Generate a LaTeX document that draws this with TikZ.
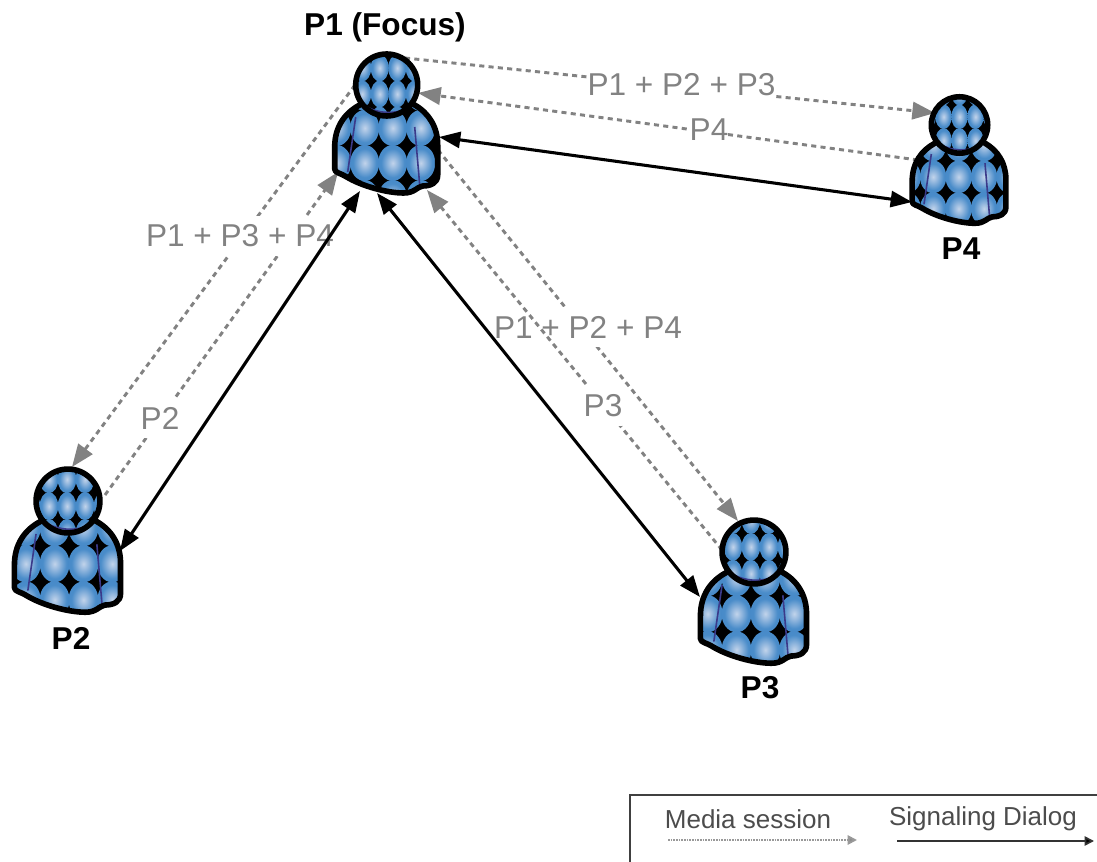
\documentclass[tikz,border=0pt]{standalone}
\usepackage{fontspec}
\setmainfont{Liberation Sans}
\usetikzlibrary{arrows.meta}
\definecolor{mediagray}{HTML}{828282}
\definecolor{seamcolor}{HTML}{3B3A8A}
\pgfdeclareradialshading{bubble}{\pgfpoint{0bp}{0bp}}{rgb(0bp)=(.76,.83,.92);rgb(8bp)=(.58,.72,.87);rgb(20bp)=(.29,.55,.79);rgb(50bp)=(.24,.51,.77)}
\def\bodypath{(-27,20) .. controls (-42,28) and (-52,42) .. (-52,62) -- (-52,84) .. controls (-52,88) and (-46,88) .. (-40,92) .. controls (-25,101) and (0,108) .. (17,108) .. controls (28,108) and (30,102) .. (36,101) .. controls (44,101) and (51,98) .. (51,90) -- (51,60) .. controls (51,42) and (42,28) .. (28,20) .. controls (10,10) and (-10,10) .. (-27,20) -- cycle}
\tikzset{
	x=.75pt,y=-.75pt,
	bubbleshade/.style={shading=bubble},
	seam/.style={draw=seamcolor,line width=1.2pt},
	outline/.style={draw=black,line width=4.2pt,line join=round},
	media/.style={draw=mediagray,line width=2.2pt,dash pattern=on 3.8pt off 3.2pt,-{Triangle[length=17pt,width=13pt,fill=mediagray]}},
	signaling/.style={draw=black,line width=2.3pt,{Triangle[length=16pt,width=12pt]}-{Triangle[length=16pt,width=12pt]}},
	streamlabel/.style={fill=white,text=mediagray,inner sep=0pt,minimum height=30pt,font=\fontsize{23.7}{28}\selectfont},
	peerlabel/.style={font=\fontsize{23.7}{28}\selectfont\bfseries},
	legendlabel/.style={text=black!70,inner sep=0pt,font=\fontsize{19.5}{24}\selectfont},
	pics/person/.style n args={4}{code={
		\begin{scope}
			\clip \bodypath;
			\fill[black] (-60,10) rectangle (60,115);
			\foreach \i in {-3,...,3}
			{
				\foreach \j in {-2,...,2}
				{
					\shade[bubbleshade] ({#1+\i*28},{#2+\j*35}) ellipse [x radius=14.5,y radius=18];
				}
			}
			\draw[seam] (-31,32) -- (-39,87);
			\draw[seam] (28,42) -- (33,100);
		\end{scope}
		\draw[outline] \bodypath;
		\begin{scope}
			\clip (0,0) circle (31);
			\fill[black] (-31,-31) rectangle (31,31);
			\foreach \i in {-3,...,3}
			{
				\foreach \j in {-2,...,2}
				{
					\shade[bubbleshade] ({#3+\i*17.5},{#4+\j*26}) ellipse [x radius=9,y radius=13.5];
				}
			}
			\draw[seam] (-23,20) .. controls (-10,29) and (10,30) .. (22,22);
		\end{scope}
		\draw[outline] (0,0) circle (31);
	}},
}
\begin{document}
\begin{tikzpicture}
	\useasboundingbox (0,0) rectangle (1097,862);
	% end points of the connectors
	\coordinate (p1-east) at (405,58);
	\coordinate (p4-west) at (935,113);
	\coordinate (p4-side) at (918,160);
	\coordinate (p1-neck) at (418,93);
	\coordinate (p1-west) at (355,85);
	\coordinate (p2-head) at (72,467);
	\coordinate (p2-neck) at (105,495);
	\coordinate (p1-hip) at (338,172);
	\coordinate (p1-foot) at (360,191);
	\coordinate (p2-arm) at (120,551);
	\coordinate (p1-low) at (377,193);
	\coordinate (p3-arm) at (700,597);
	\coordinate (p1-arm) at (439,137);
	\coordinate (p4-arm) at (912,202);
	\coordinate (p1-side) at (438,150);
	\coordinate (p3-head) at (738,521);
	\coordinate (p3-neck) at (722,550);
	\coordinate (p1-base) at (427,190);
	
	% media sessions with their labels
	\draw[media] (p1-east) -- (p4-west);
	\node[streamlabel] (l-p123) at (681.5,85) {P1 + P2 + P3};
	\draw[media] (p4-side) -- (p1-neck);
	\node[streamlabel] (l-p4) at (709,130) {P4};
	\draw[media] (p1-west) -- (p2-head);
	\draw[media] (p2-neck) -- (p1-hip);
	\node[streamlabel] (l-p134) at (240,236) {P1 + P3 + P4};
	\node[streamlabel] (l-p2) at (160,418) {P2};
	\draw[media] (p1-side) -- (p3-head);
	\node[streamlabel] (l-p124) at (588,327) {P1 + P2 + P4};
	\draw[media] (p3-neck) -- (p1-base);
	\node[streamlabel] (l-p3) at (603,406) {P3};
	
	% signaling dialogs
	\draw[signaling] (p1-foot) -- (p2-arm);
	\draw[signaling] (p1-low) -- (p3-arm);
	\draw[signaling] (p1-arm) -- (p4-arm);
	
	\pic (p1) at (386.7,85) {person={-22}{43}{-7}{-17}};
	\pic[scale=1.03] (p2) at (68,501) {person={-13}{61}{-1}{5}};
	\pic[scale=1.03] (p3) at (754,552) {person={-17}{60}{-3}{-5}};
	\pic[scale=.91] (p4) at (959.5,125) {person={-1}{57}{0}{-9}};
	
	\node[peerlabel] (n-p1) at (385,27) {P1 (Focus)};
	\node[peerlabel] (n-p2) at (71,638) {P2};
	\node[peerlabel] (n-p3) at (760,688) {P3};
	\node[peerlabel] (n-p4) at (961,249) {P4};
	
	% legend
	\coordinate (box-a) at (1097,795);
	\coordinate (box-b) at (630,795);
	\coordinate (box-c) at (630,862);
	\draw[black!75,line width=1.4pt] (box-a) -- (box-b) -- (box-c);
	\node[legendlabel] (t-media) at (748,819) {Media session};
	\node[legendlabel] (t-signal) at (983,819) {Signaling Dialog};
	\coordinate (m-a) at (668,840);
	\coordinate (m-b) at (857,840);
	\coordinate (s-a) at (897,841);
	\coordinate (s-b) at (1094,841);
	\draw[draw=black!40,line width=1.4pt,dash pattern=on 1.2pt off .8pt,-{Triangle[length=7pt,width=7pt,fill=black!45]}] (m-a) -- (m-b);
	\draw[draw=black!80,line width=1.3pt,-{Triangle[length=7pt,width=7pt,fill=black]}] (s-a) -- (s-b);
\end{tikzpicture}
\end{document}
